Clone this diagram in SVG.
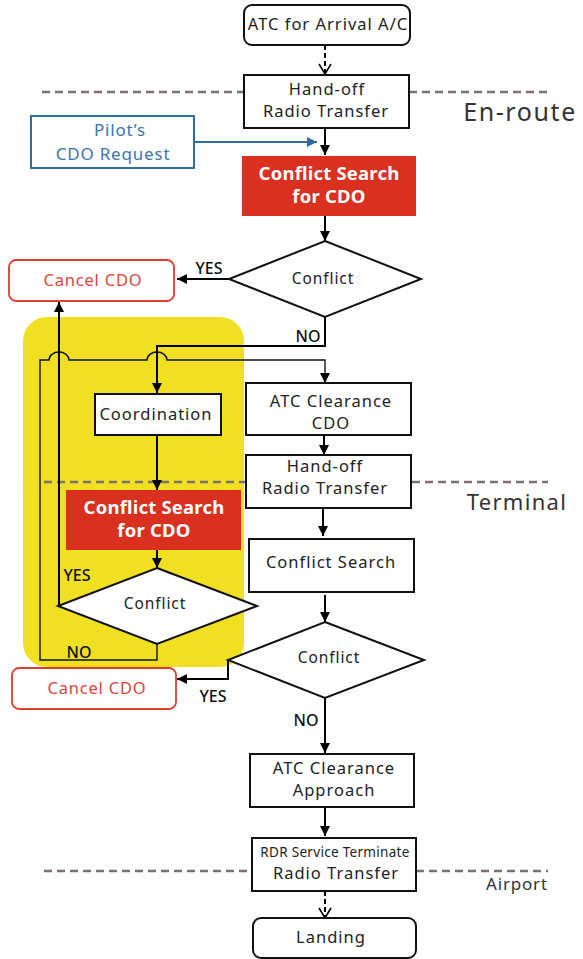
<svg xmlns="http://www.w3.org/2000/svg" width="583" height="959" viewBox="0 0 583 959">
<style>
text{font-family:"Noto Sans","Noto Sans CJK JP",sans-serif;fill:#222;text-anchor:middle}
.box{fill:#fff;stroke:#111;stroke-width:2}
.red{fill:#d9301f;stroke:none}
.redt{fill:#fff;font-weight:bold;font-size:18.5px;letter-spacing:0.2px}
.cancel{fill:#fff;stroke:#e03c31;stroke-width:1.8}
.cancelt{fill:#e0453a;font-size:16.5px;letter-spacing:0.8px}
.blue{fill:#fff;stroke:#2e6da4;stroke-width:2}
.bluet{fill:#3a76ae;font-size:17px;letter-spacing:0.8px}
.t{font-size:16.5px;letter-spacing:1px}
.d{font-size:15.5px;letter-spacing:0.9px}
.lbl{font-size:16px;font-weight:500;fill:#111}
.zone{stroke:#7a7272;stroke-width:2.5;stroke-dasharray:8 5;fill:none}
.zt{fill:#333}
.c{fill:none;stroke:#000;stroke-width:2}
.thin{fill:none;stroke:#111;stroke-width:1.4}
</style>
<defs>
<marker id="ah" markerUnits="userSpaceOnUse" markerWidth="10" markerHeight="10" refX="10" refY="5" orient="auto"><path d="M0,0 L10,5 L0,10 z" fill="#000"/></marker>
<marker id="ahb" markerUnits="userSpaceOnUse" markerWidth="10" markerHeight="10" refX="10" refY="5" orient="auto"><path d="M0,0 L10,5 L0,10 z" fill="#2e6da4"/></marker>
<marker id="av" markerUnits="userSpaceOnUse" markerWidth="14" markerHeight="14" refX="11" refY="7" orient="auto"><path d="M1,1 L11,7 L1,13" fill="none" stroke="#000" stroke-width="1.6"/></marker>
</defs>
<rect width="583" height="959" fill="#fff"/>
<g id="focus-area"><rect x="23" y="317" width="221" height="350" rx="24" fill="#f1df22"/></g>
<g id="zones">
<path class="zone" d="M42,92 H245 M409,92 H550"/>
<text class="zt" x="520" y="121" font-size="25" letter-spacing="1.6">En-route</text>
<path class="zone" d="M44,482 H246 M412,482 H548"/>
<text class="zt" x="517" y="510" font-size="22" letter-spacing="1.3">Terminal</text>
<path class="zone" d="M44,871 H252 M416,871 H548"/>
<text class="zt" x="517" y="890" font-size="17" letter-spacing="0.8">Airport</text>
</g>
<g id="connectors">
<path class="c" d="M325,45 V74" stroke-dasharray="5 3" marker-end="url(#av)"/>
<path class="c" d="M325,128 V155" marker-end="url(#ah)"/>
<path d="M194,142 H317" fill="none" stroke="#2e6da4" stroke-width="2" marker-end="url(#ahb)"/>
<path class="c" d="M325,216 V241" marker-end="url(#ah)"/>
<path class="c" d="M229,279 H177" marker-end="url(#ah)"/>
<path class="c" d="M325,317 V346 H157 V393" stroke-width="1.6" marker-end="url(#ah)"/>
<path class="thin" d="M157,644 V660 H40 V360 H49 A10,8 0 0 1 69,360 H147 A10,8 0 0 1 167,360 H325 V383" marker-end="url(#ah)"/>
<path class="c" d="M157,435 V490" marker-end="url(#ah)"/>
<path class="c" d="M157,550 V568" marker-end="url(#ah)"/>
<path class="c" d="M59,606 V302" marker-end="url(#ah)"/>
<path class="c" d="M324,435 V455" marker-end="url(#ah)"/>
<path class="c" d="M323,508 V536" marker-end="url(#ah)"/>
<path class="c" d="M325,595 V622" marker-end="url(#ah)"/>
<path class="c" d="M228,660 V679 H177" stroke-width="1.6" marker-end="url(#ah)"/>
<path class="c" d="M325,698 V753" marker-end="url(#ah)"/>
<path class="c" d="M325,807 V836" marker-end="url(#ah)"/>
<path class="c" d="M325,891 V918" stroke-dasharray="5 3" marker-end="url(#av)"/>
<text class="lbl" x="209" y="274">YES</text>
<text class="lbl" x="308" y="342">NO</text>
<text class="lbl" x="77" y="581">YES</text>
<text class="lbl" x="79" y="658">NO</text>
<text class="lbl" x="213" y="702">YES</text>
<text class="lbl" x="306" y="726">NO</text>
</g>
<g id="atc-arrival"><rect class="box" x="244" y="5" width="166" height="40" rx="8"/><text class="t" x="328" y="30">ATC for Arrival A/C</text></g>
<g id="handoff-1"><rect class="box" x="244" y="75" width="165" height="53"/><text class="t" x="327" y="95">Hand-off</text><text class="t" x="326" y="117">Radio Transfer</text></g>
<g id="pilot-request"><rect class="blue" x="31" y="116" width="163" height="52"/><text class="bluet" x="120" y="136">Pilot’s</text><text class="bluet" x="113" y="160">CDO Request</text></g>
<g id="conflict-search-cdo-1"><rect class="red" x="242" y="156" width="174" height="60"/><text class="redt" x="329" y="180">Conflict Search</text><text class="redt" x="329" y="203">for CDO</text></g>
<g id="conflict-1"><path class="box" d="M325,241 L421,279 L325,317 L229,279 z"/><text class="d" x="323" y="284">Conflict</text></g>
<g id="cancel-1"><rect class="cancel" x="9" y="260" width="165" height="41" rx="7"/><text class="cancelt" x="93" y="286">Cancel CDO</text></g>
<g id="coordination"><rect class="box" x="95" y="394" width="126" height="41"/><text class="t" x="156" y="420">Coordination</text></g>
<g id="conflict-search-cdo-2"><rect class="red" x="66" y="490" width="175" height="60"/><text class="redt" x="154" y="514">Conflict Search</text><text class="redt" x="154" y="537">for CDO</text></g>
<g id="conflict-2"><path class="box" d="M157,568 L257,606 L157,644 L58,606 z"/><text class="d" x="155" y="609">Conflict</text></g>
<g id="atc-clearance-cdo"><rect class="box" x="246" y="383" width="165" height="52"/><text class="t" x="331" y="407">ATC Clearance</text><text class="t" x="331" y="429">CDO</text></g>
<g id="handoff-2"><rect class="box" x="246" y="455" width="165" height="53"/><text class="t" x="325" y="472">Hand-off</text><text class="t" x="325" y="494">Radio Transfer</text></g>
<g id="conflict-search"><rect class="box" x="249" y="539" width="165" height="53"/><text class="t" x="331" y="568">Conflict Search</text></g>
<g id="conflict-3"><path class="box" d="M325,622 L424,660 L325,698 L228,660 z"/><text class="d" x="329" y="663">Conflict</text></g>
<g id="cancel-2"><rect class="cancel" x="12" y="668" width="164" height="41" rx="7"/><text class="cancelt" x="97" y="694">Cancel CDO</text></g>
<g id="atc-clearance-approach"><rect class="box" x="250" y="754" width="164" height="53"/><text class="t" x="334" y="774">ATC Clearance</text><text class="t" x="334" y="796">Approach</text></g>
<g id="rdr-terminate"><rect class="box" x="252" y="838" width="164" height="53"/><text x="335" y="857" font-size="13.5" letter-spacing="0.3">RDR Service Terminate</text><text class="t" x="336" y="879">Radio Transfer</text></g>
<g id="landing"><rect class="box" x="253" y="918" width="163" height="40" rx="8"/><text class="t" x="331" y="943">Landing</text></g>
</svg>
